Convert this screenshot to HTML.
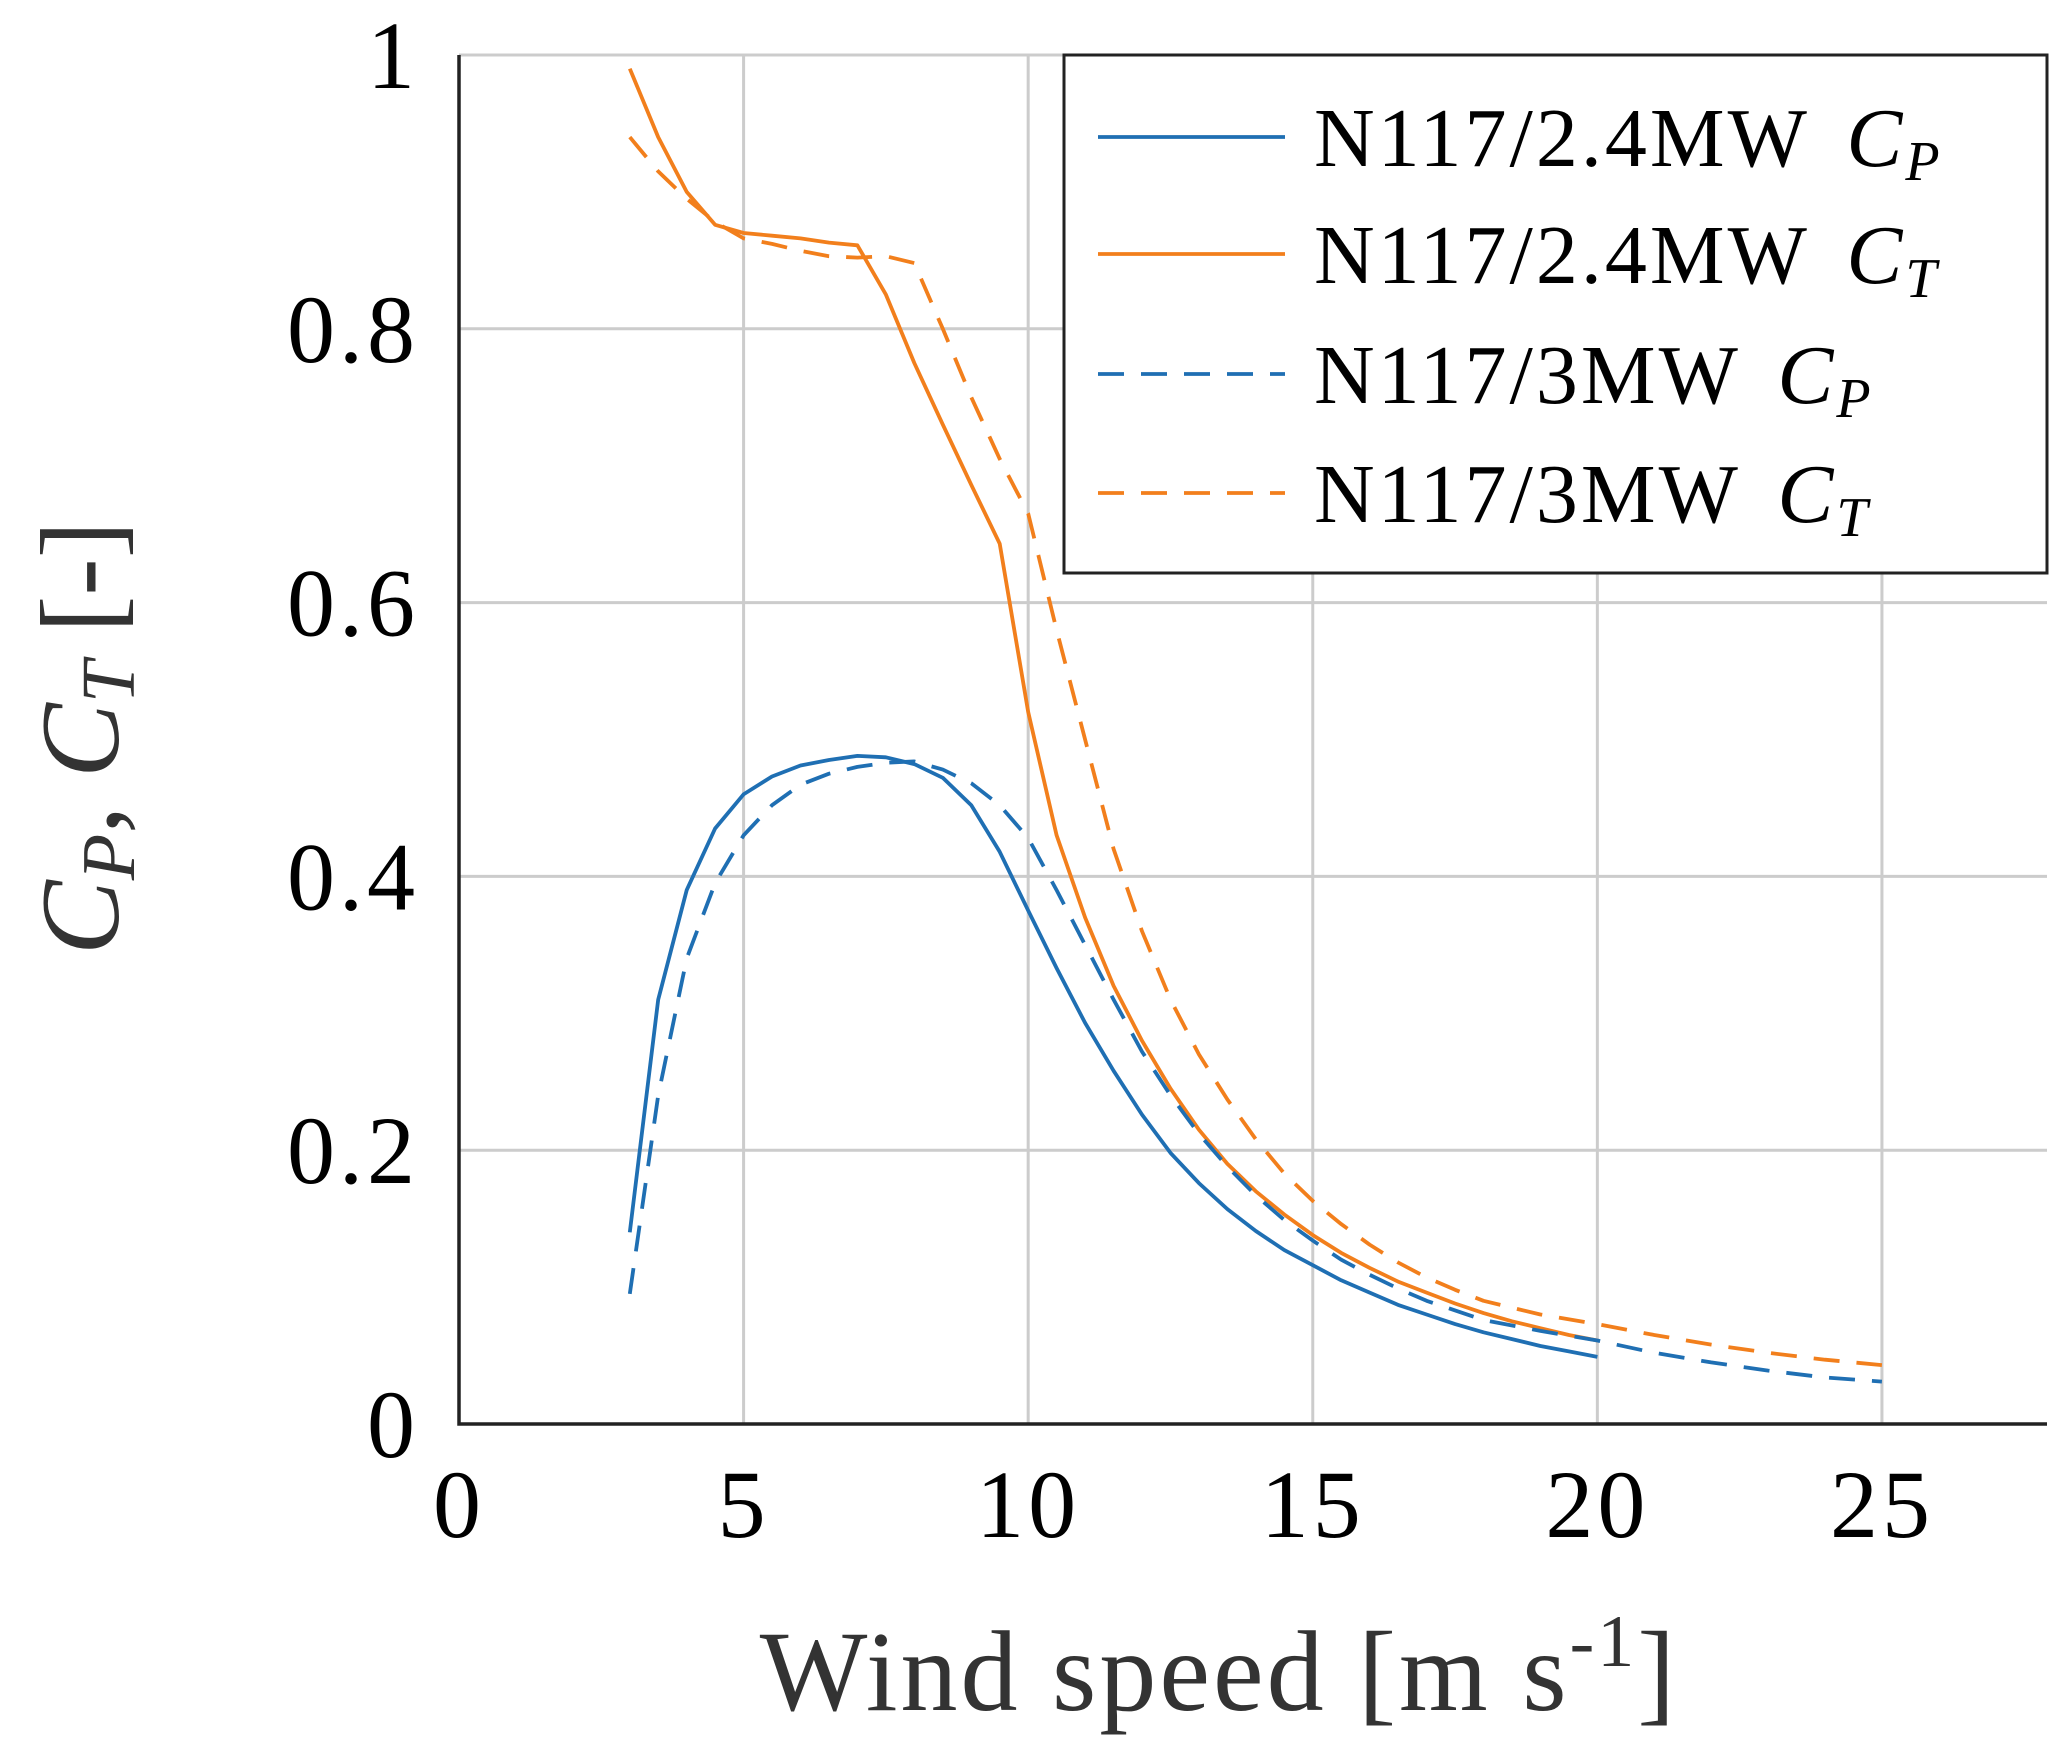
<!DOCTYPE html>
<html><head><meta charset="utf-8"><style>
html,body{margin:0;padding:0;background:#fff;}
svg{display:block;font-family:"Liberation Serif",serif;}
</style></head><body>
<svg id="chart" width="2067" height="1757" viewBox="0 0 2067 1757">
<g id="grid"></g>
<g id="series"></g>
<g id="axes"></g>
<text x="1219" y="1710" font-size="114" text-anchor="middle" fill="#333" letter-spacing="3">Wind speed [m s<tspan font-size="74" dy="-44">-1</tspan><tspan dy="44">]</tspan></text>
<text transform="translate(118,738) rotate(-90)" font-size="112" text-anchor="middle" fill="#333"><tspan font-style="italic">C</tspan><tspan font-style="italic" font-size="76" dy="16">P</tspan><tspan dy="-16">, </tspan><tspan font-style="italic">C</tspan><tspan font-style="italic" font-size="76" dy="16">T</tspan><tspan dy="-16"> [-]</tspan></text>
<g id="legend"></g>
</svg>
<script>
const xTicks=[0,5,10,15,20,25];
const yTicks=[0,0.2,0.4,0.6,0.8,1];
const yTickLabels=["0","0.2","0.4","0.6","0.8","1"];
const xA=[3,3.5,4,4.5,5,5.5,6,6.5,7,7.5,8,8.5,9,9.5,10,10.5,11,11.5,12,12.5,13,13.5,14,14.5,15,15.5,16,16.5,17,17.5,18,18.5,19,19.5,20];
const cp24=[0.14,0.31,0.39,0.435,0.46,0.473,0.481,0.485,0.488,0.487,0.482,0.472,0.452,0.418,0.375,0.333,0.293,0.258,0.226,0.198,0.176,0.157,0.141,0.127,0.116,0.105,0.096,0.087,0.080,0.073,0.067,0.062,0.057,0.053,0.049];
const ct24=[0.99,0.94,0.9,0.876,0.87,0.868,0.866,0.863,0.861,0.825,0.775,0.73,0.686,0.643,0.52,0.43,0.37,0.32,0.28,0.245,0.215,0.19,0.17,0.153,0.138,0.125,0.114,0.104,0.096,0.088,0.081,0.075,0.07,0.065,0.061];
const xB=[3,3.5,4,4.5,5,5.5,6,6.5,7,7.5,8,8.5,9,9.5,10,10.5,11,11.5,12,12.5,13,13.5,14,14.5,15,15.5,16,16.5,17,17.5,18,19,20,21,22,23,24,25];
const cp3=[0.095,0.24,0.34,0.395,0.43,0.452,0.467,0.475,0.48,0.483,0.484,0.478,0.468,0.452,0.428,0.39,0.35,0.31,0.272,0.24,0.212,0.188,0.167,0.149,0.134,0.12,0.109,0.099,0.09,0.083,0.076,0.068,0.061,0.052,0.045,0.039,0.034,0.031];
const ct3=[0.94,0.915,0.895,0.878,0.866,0.862,0.857,0.853,0.852,0.853,0.848,0.8,0.75,0.705,0.665,0.58,0.5,0.42,0.36,0.31,0.27,0.237,0.208,0.183,0.163,0.146,0.131,0.118,0.107,0.098,0.09,0.08,0.073,0.065,0.058,0.052,0.047,0.043];
const seriesNames=["N117/2.4MW","N117/2.4MW","N117/3MW","N117/3MW"];
const L=459,R=2047,T=55,B=1424,XMAX=27.9;
const sx=v=>L+v/XMAX*(R-L), sy=v=>B-v*(B-T);
const NS="http://www.w3.org/2000/svg";
function mk(tag,attrs,parent){const e=document.createElementNS(NS,tag);for(const k in attrs)e.setAttribute(k,attrs[k]);parent.appendChild(e);return e;}
const grid=document.getElementById('grid'),axes=document.getElementById('axes'),ser=document.getElementById('series'),leg=document.getElementById('legend');
xTicks.forEach(v=>{if(v>0){const l=mk('line',{x1:sx(v),x2:sx(v),y1:T,y2:B,stroke:'#cccccc','stroke-width':3},grid);

}
const t=mk('text',{x:sx(v),y:1537,'font-size':96,'text-anchor':'middle',fill:'#000','letter-spacing':4},axes);t.textContent=v;

});
yTicks.forEach((v,i)=>{if(v>0){const l=mk('line',{x1:L,x2:R,y1:sy(v),y2:sy(v),stroke:'#cccccc','stroke-width':3},grid);

}
const t=mk('text',{x:419,y:sy(v)+33,'font-size':96,'text-anchor':'end',fill:'#000','letter-spacing':4},axes);t.textContent=yTickLabels[i];

});
const ax=mk('path',{d:`M${L},${T} L${L},${B} L${R},${B}`,fill:'none',stroke:'#222','stroke-width':3.5},axes);


function line(xs,ys,color,dash,name){const d=xs.map((x,i)=>(i?'L':'M')+sx(x).toFixed(1)+','+sy(ys[i]).toFixed(1)).join(' ');
const p=mk('path',{d,fill:'none',stroke:color,'stroke-width':3.8,'stroke-dasharray':dash||'none','stroke-linejoin':'round'},ser);

}
const BLUE='#1f6fb3',OR='#f27f1c',DS='26 17';
line(xA,cp24,BLUE,null,'cp-2-4mw-line');
line(xA,ct24,OR,null,'ct-2-4mw-line');
line(xB,cp3,BLUE,DS,'cp-3mw-line');
line(xB,ct3,OR,DS,'ct-3mw-line');
const box=mk('rect',{x:1064,y:55,width:983,height:518,fill:'#fff',stroke:'#222','stroke-width':3},leg);


const items=[[BLUE,null,'P'],[OR,null,'T'],[BLUE,DS,'P'],[OR,DS,'T']];
const ly=[137,254,374,493];
items.forEach((it,i)=>{const l=mk('line',{x1:1098,x2:1285,y1:ly[i],y2:ly[i],stroke:it[0],'stroke-width':3.8,'stroke-dasharray':it[1]||'none'},leg);


const t=mk('text',{x:1314,y:ly[i]+29,'font-size':84,fill:'#000','letter-spacing':3},leg);


t.innerHTML=seriesNames[i]+' <tspan font-style="italic" dx="14">C</tspan><tspan font-style="italic" font-size="56" dy="14">'+it[2]+'</tspan>';});
</script>
</body></html>
